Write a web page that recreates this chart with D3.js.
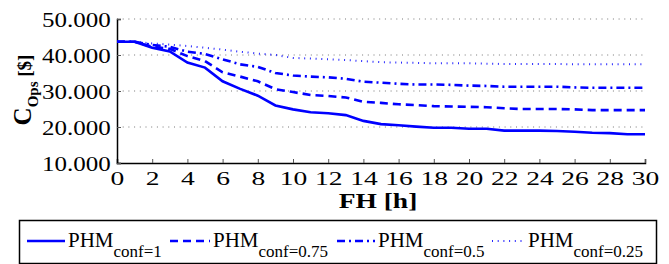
<!DOCTYPE html>
<html>
<head>
<meta charset="utf-8">
<script src="https://cdn.jsdelivr.net/npm/d3@7"></script>
<style>
  html, body { margin: 0; padding: 0; background: #fff; }
  svg, svg text { font-family: "Liberation Serif", "Times New Roman", Times, Tinos, "Noto Serif", "DejaVu Serif", serif; }
</style>
</head>
<body>
<svg id="chart" width="669" height="264"></svg>
<script>
// flight hours on the x axis
const hours = [0,1,2,3,4,5,6,7,8,9,10,11,12,13,14,15,16,17,18,19,20,21,22,23,24,25,26,27,28,29,30];

// operating cost per PHM confidence level
const conf1   = [43700,43700,42000,41000,37900,36500,32700,30600,28700,26000,24900,24100,23800,23300,21700,20800,20500,20100,19800,19800,19500,19500,19000,19000,19000,18900,18700,18400,18300,18000,18000];
const conf075 = [43700,43700,42300,41700,39700,38300,35200,34000,32700,30500,29700,28900,28600,28200,27000,26700,26300,26100,25800,25700,25600,25500,25200,25000,25000,25000,24900,24700,24700,24700,24700];
const conf05  = [43700,43700,42800,42300,40900,40300,38800,37400,36700,35000,34300,34000,33800,33400,32600,32300,32000,31800,31800,31700,31500,31400,31200,31200,31200,31200,31000,30900,30900,30900,30900];
const conf025 = [43700,43700,43200,42900,42500,42000,41500,40900,40400,40000,39200,39000,38800,38600,38300,38000,37900,37800,37700,37700,37700,37600,37500,37500,37500,37500,37400,37400,37400,37400,37400];

const seriesNames = ["conf=1", "conf=0.75", "conf=0.5", "conf=0.25"];
const xTicks = [0,2,4,6,8,10,12,14,16,18,20,22,24,26,28,30];
const yTicks = [10000,20000,30000,40000,50000];

const series = [
  {name: seriesNames[0], values: conf1,   dash: null,      width: 2.6, opacity: 1},
  {name: seriesNames[1], values: conf075, dash: "8,5",     width: 2.6, opacity: 1},
  {name: seriesNames[2], values: conf05,  dash: "8,4,2,4", width: 2.6, opacity: 1},
  {name: seriesNames[3], values: conf025, dash: "1,4.7",   width: 2,   opacity: 0.85}
];

const svg = d3.select("#chart");
const blue = "#0000ff";

const x = d3.scaleLinear().domain([0, 30]).range([117, 645]);
const y = d3.scaleLinear().domain([10000, 50000]).range([163, 19]);

const de = d3.formatLocale({decimal: ",", thousands: ".", grouping: [3], currency: ["", ""]});
const fmt = de.format(",.0f");

// grid lines
svg.append("g")
  .selectAll("line")
  .data(yTicks.filter(v => v > 10000))
  .join("line")
  .attr("x1", x(0)).attr("x2", x(30))
  .attr("y1", d => y(d)).attr("y2", d => y(d))
  .attr("stroke", "#777")
  .attr("stroke-width", 1)
  .attr("stroke-dasharray", "1,4.7");

// x axis
const xAxis = svg.append("g")
  .attr("transform", `translate(0,${y(10000)})`)
  .call(d3.axisBottom(x).tickValues(xTicks).tickSize(-4).tickPadding(9));
xAxis.attr("font-family", null);
xAxis.select(".domain").attr("stroke", "#000").attr("stroke-width", 1.5);
xAxis.selectAll(".tick line").attr("stroke", "#555");
xAxis.selectAll(".tick text")
  .attr("font-size", 19)
  .attr("fill", "#000")
  .attr("dy", "0.68em")
  .attr("transform", "scale(1.45,1)");

// y axis
const yAxis = svg.append("g")
  .attr("transform", `translate(${x(0)},0)`)
  .call(d3.axisLeft(y).tickValues(yTicks).tickFormat(fmt).tickSize(-4).tickPadding(5));
yAxis.attr("font-family", null);
yAxis.select(".domain").attr("stroke", "#000").attr("stroke-width", 1.5);
yAxis.selectAll(".tick line").attr("stroke", "#555");
yAxis.selectAll(".tick text")
  .attr("font-size", 20)
  .attr("fill", "#000")
  .attr("dy", "0.36em")
  .attr("transform", "scale(1.25,1)");

// lines
const line = d3.line()
  .x((d, i) => x(hours[i]))
  .y(d => y(d));

svg.append("g")
  .selectAll("path")
  .data(series)
  .join("path")
  .attr("d", d => line(d.values))
  .attr("fill", "none")
  .attr("stroke", blue)
  .attr("stroke-width", d => d.width)
  .attr("stroke-opacity", d => d.opacity)
  .attr("stroke-dasharray", d => d.dash);

// axis titles
svg.append("text")
  .attr("transform", "translate(378,208) scale(1.25,1)")
  .attr("text-anchor", "middle")
  .attr("font-weight", "bold")
  .attr("font-size", 22)
  .text("FH [h]");

const yl = svg.append("text")
  .attr("transform", "translate(31,90) rotate(-90)")
  .attr("text-anchor", "middle")
  .attr("font-weight", "bold");
yl.append("tspan").attr("font-size", 25).text("C");
yl.append("tspan").attr("font-size", 15).attr("dy", 7).text("Ops");
yl.append("tspan").attr("font-size", 19).attr("dy", -7).text(" [$]");

// legend
const legend = svg.append("g");
legend.append("rect")
  .attr("x", 19.5).attr("y", 220.5)
  .attr("width", 637).attr("height", 43)
  .attr("fill", "#fff")
  .attr("stroke", "#000")
  .attr("stroke-width", 1.5);

const legendX = [27, 170, 337, 492];
const sampleLen = [38, 40, 38, 33];
const item = legend.selectAll("g.item")
  .data(series)
  .join("g")
  .attr("class", "item")
  .attr("transform", (d, i) => `translate(${legendX[i]},0)`);

item.append("line")
  .attr("x1", 0).attr("x2", (d, i) => sampleLen[i])
  .attr("y1", 241).attr("y2", 241)
  .attr("stroke", blue)
  .attr("stroke-width", d => d.width)
  .attr("stroke-opacity", d => d.opacity)
  .attr("stroke-dasharray", d => d.dash);

const lt = item.append("text")
  .attr("x", (d, i) => sampleLen[i] + 3)
  .attr("y", 247)
  .attr("font-size", 21);
lt.append("tspan").text("PHM");
lt.append("tspan").attr("font-size", 17).attr("dy", 10).text(d => d.name);
</script>
</body>
</html>
